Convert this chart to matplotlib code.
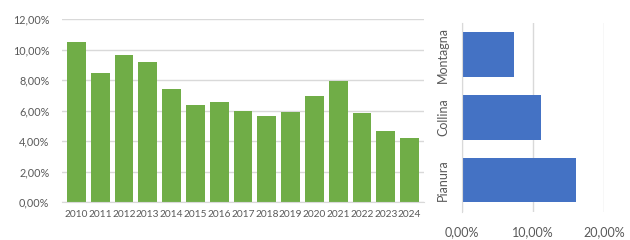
import matplotlib
matplotlib.use("Agg")
import matplotlib.pyplot as plt
from matplotlib.ticker import FuncFormatter

years = ["2010", "2011", "2012", "2013", "2014", "2015", "2016", "2017",
         "2018", "2019", "2020", "2021", "2022", "2023", "2024"]
rates = [10.50, 8.47, 9.66, 9.20, 7.42, 6.37, 6.57, 5.98,
         5.65, 5.91, 6.96, 7.95, 5.85, 4.66, 4.20]

zones = ["Pianura", "Collina", "Montagna"]
zone_rates = [16.03, 11.08, 7.34]

GREEN = "#70AD47"
BLUE = "#4472C4"
GRID = "#D9D9D9"
TEXT = "#595959"

plt.rcParams["font.family"] = ["Lato", "DejaVu Sans"]


def pct(v, pos):
    return ("%.2f%%" % v).replace(".", ",")


fig = plt.figure(figsize=(6.3, 2.4), dpi=100)

# left: yearly bars
ax = fig.add_axes([0.0984, 0.158, 0.5746, 0.7616])
ax.bar(range(len(years)), rates, width=0.79, color=GREEN, zorder=2)
ax.set_ylim(0, 12)
ax.set_xlim(-0.6, len(years) - 0.4)
ax.set_yticks(range(0, 13, 2))
ax.yaxis.set_major_formatter(FuncFormatter(pct))
ax.set_xticks(range(len(years)))
ax.set_xticklabels(years)
ax.grid(axis="y", color=GRID, linewidth=1, zorder=0)
for s in ["top", "right", "left"]:
    ax.spines[s].set_visible(False)
ax.spines["bottom"].set_color(GRID)
ax.tick_params(axis="both", length=0, colors=TEXT)
ax.tick_params(axis="x", pad=6, labelsize=7.3)
ax.tick_params(axis="y", pad=9, labelsize=7.8)

# right: zone bars
ax2 = fig.add_axes([0.733, 0.117, 0.226, 0.787])
ax2.barh(range(len(zones)), zone_rates, height=0.7, color=BLUE, zorder=2)
ax2.set_xlim(0, 20)
ax2.set_ylim(-0.5, len(zones) - 0.5)
ax2.set_xticks([0, 10, 20])
ax2.xaxis.set_major_formatter(FuncFormatter(pct))
ax2.set_yticks(range(len(zones)))
ax2.set_yticklabels(zones, rotation=90, va="center")
ax2.grid(axis="x", color=GRID, linewidth=1, zorder=0)
for s in ["top", "right", "bottom"]:
    ax2.spines[s].set_visible(False)
ax2.spines["left"].set_color(GRID)
ax2.tick_params(axis="both", length=0, labelsize=9, colors=TEXT)
ax2.tick_params(axis="x", pad=10)
ax2.tick_params(axis="y", pad=9)

fig.savefig("out.png", dpi=100)
